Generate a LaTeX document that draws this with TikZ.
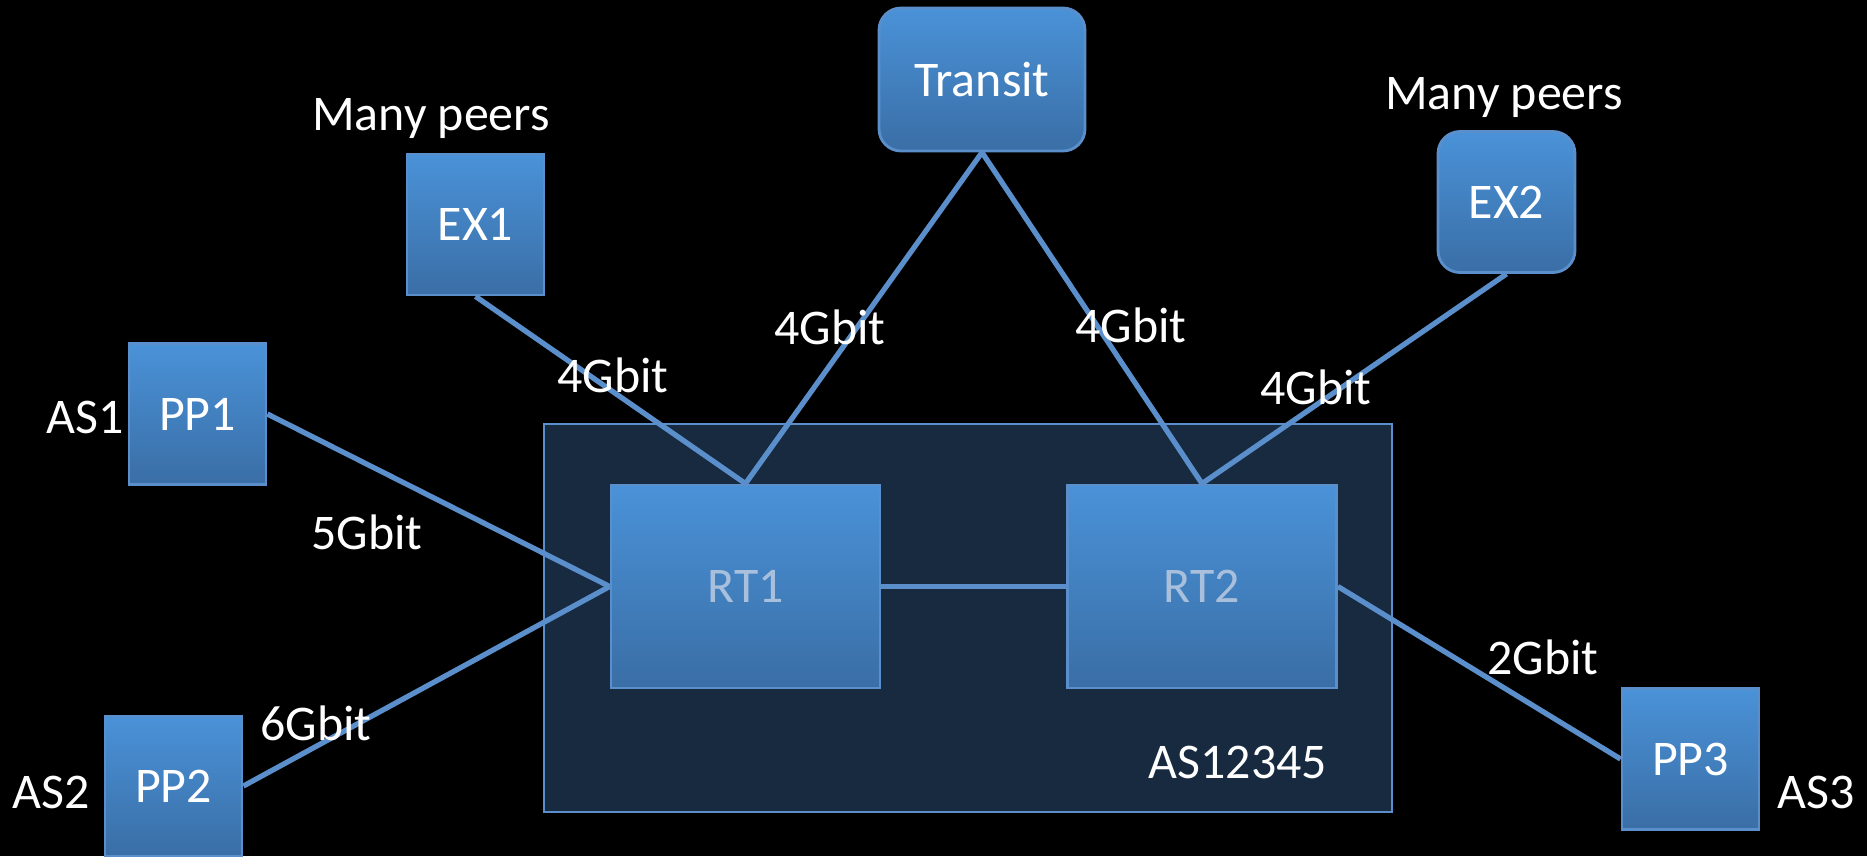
\documentclass[tikz,border=0pt]{standalone}
\usepackage{fontspec}
\setmainfont{Carlito}
\definecolor{boxtop}{HTML}{4A92D8}
\definecolor{boxbot}{HTML}{3A6EA6}
\definecolor{boxrim}{HTML}{5B8FCB}
\definecolor{linkcol}{HTML}{5A8FCC}
\definecolor{asfill}{HTML}{172A40}
\definecolor{rtcol}{HTML}{A8C0DC}
\tikzset{
  box/.style={draw=boxrim, line width=0.8pt, top color=boxtop, bottom color=boxbot,
    text=white, minimum width=1.37cm, minimum height=1.41cm, inner sep=0pt},
  rbox/.style={box, rounded corners=0.22cm},
  router/.style={box, text=rtcol, minimum width=2.69cm, minimum height=2.03cm},
  link/.style={draw=linkcol, line width=1.5pt},
  lbl/.style={text=white, inner sep=0pt}
}
\begin{document}
\begin{tikzpicture}[font=\fontsize{14.2}{17}\selectfont]
\fill[black] (0,0) rectangle (18.67,8.56);
\useasboundingbox (0,0) rectangle (18.67,8.56);
% the AS
\draw[draw=boxrim, fill=asfill, line width=0.8pt] (5.44,0.44) rectangle (13.92,4.32);
\node[lbl] (asname) at (12.38,0.94) {AS12345};
% routers
\node[router] (rt1) at (7.455,2.695) {RT1};
\node[router] (rt2) at (12.02,2.695) {RT2};
% outside
\node[rbox, minimum width=2.06cm, minimum height=1.43cm] (transit) at (9.82,7.765) {Transit};
\node[box] (ex1) at (4.755,6.315) {EX1};
\node[rbox] (ex2) at (15.065,6.54) {EX2};
\node[box] (pp1) at (1.975,4.42) {PP1};
\node[box, minimum height=1.40cm] (pp2) at (1.735,0.70) {PP2};
\node[box] (pp3) at (16.905,0.97) {PP3};
\node[lbl] (peers1) at (4.31,7.37) {Many peers}; \node[lbl] (peers2) at (15.04,7.58) {Many peers};
\node[lbl] (as1) at (0.85,4.39) {AS1}; \node[lbl] (as2) at (0.51,0.64) {AS2}; \node[lbl] (as3) at (18.16,0.64) {AS3};
% links
\draw[link] (ex1.south) -- (rt1.north); \draw[link] (transit.south) -- (rt1.north);
\draw[link] (transit.south) -- (rt2.north); \draw[link] (ex2.south) -- (rt2.north);
\draw[link] (pp1.east) -- (rt1.west); \draw[link] (pp2.east) -- (rt1.west);
\draw[link] (rt1.east) -- (rt2.west); \draw[link] (rt2.east) -- (pp3.west);
\node[lbl] (bw1) at (6.13,4.81) {4Gbit}; \node[lbl] (bw2) at (8.30,5.29) {4Gbit};
\node[lbl] (bw3) at (11.31,5.31) {4Gbit}; \node[lbl] (bw4) at (13.16,4.69) {4Gbit};
\node[lbl] (bw5) at (3.67,3.24) {5Gbit}; \node[lbl] (bw6) at (3.16,1.33) {6Gbit};
\node[lbl] (bw7) at (15.43,1.99) {2Gbit};
\end{tikzpicture}
\end{document}
